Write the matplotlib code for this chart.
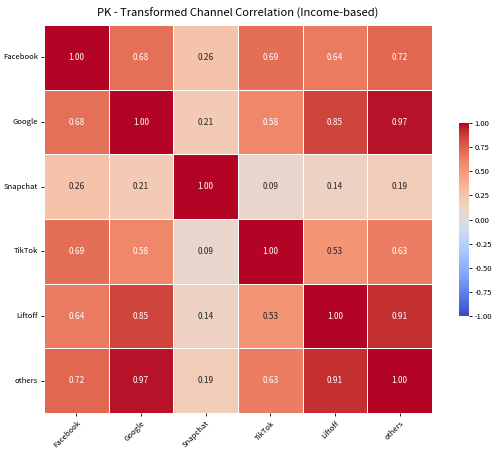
import numpy as np
import matplotlib
matplotlib.use("Agg")
import matplotlib.pyplot as plt
import seaborn as sns

labels = ["Facebook", "Google", "Snapchat", "TikTok", "Liftoff", "others"]
corr = np.array([
    [1.00, 0.68, 0.26, 0.69, 0.64, 0.72],
    [0.68, 1.00, 0.21, 0.58, 0.85, 0.97],
    [0.26, 0.21, 1.00, 0.09, 0.14, 0.19],
    [0.69, 0.58, 0.09, 1.00, 0.53, 0.63],
    [0.64, 0.85, 0.14, 0.53, 1.00, 0.91],
    [0.72, 0.97, 0.19, 0.63, 0.91, 1.00],
])

plt.rcParams['font.family'] = ['Noto Sans CJK SC', 'DejaVu Sans']
plt.rcParams['axes.unicode_minus'] = False
fig = plt.figure(figsize=(5, 4.54), dpi=100)
ax = fig.add_axes([0.088, 0.0903, 0.776, 0.8546])
cax = fig.add_axes([0.918, 0.304, 0.019, 0.425])
sns.heatmap(corr, ax=ax, cbar_ax=cax, cmap="coolwarm", vmin=-1, vmax=1,
            annot=True, fmt=".2f", annot_kws={"size": 6},
            linewidths=0.7, linecolor="white",
            xticklabels=labels, yticklabels=labels)
ax.set_title("PK - Transformed Channel Correlation (Income-based)", fontsize=8, pad=6)
ax.tick_params(labelsize=5.5, length=2.5, width=0.6, pad=2)
plt.setp(ax.get_xticklabels(), rotation=45, ha="right", rotation_mode="anchor")
plt.setp(ax.get_yticklabels(), rotation=0)
cax.tick_params(labelsize=5.5, length=2.5, width=0.6, pad=2)
cax.set_yticks([-1, -0.75, -0.5, -0.25, 0, 0.25, 0.5, 0.75, 1])
for s in cax.spines.values():
    s.set_visible(False)
fig.savefig("out.png", dpi=100)
